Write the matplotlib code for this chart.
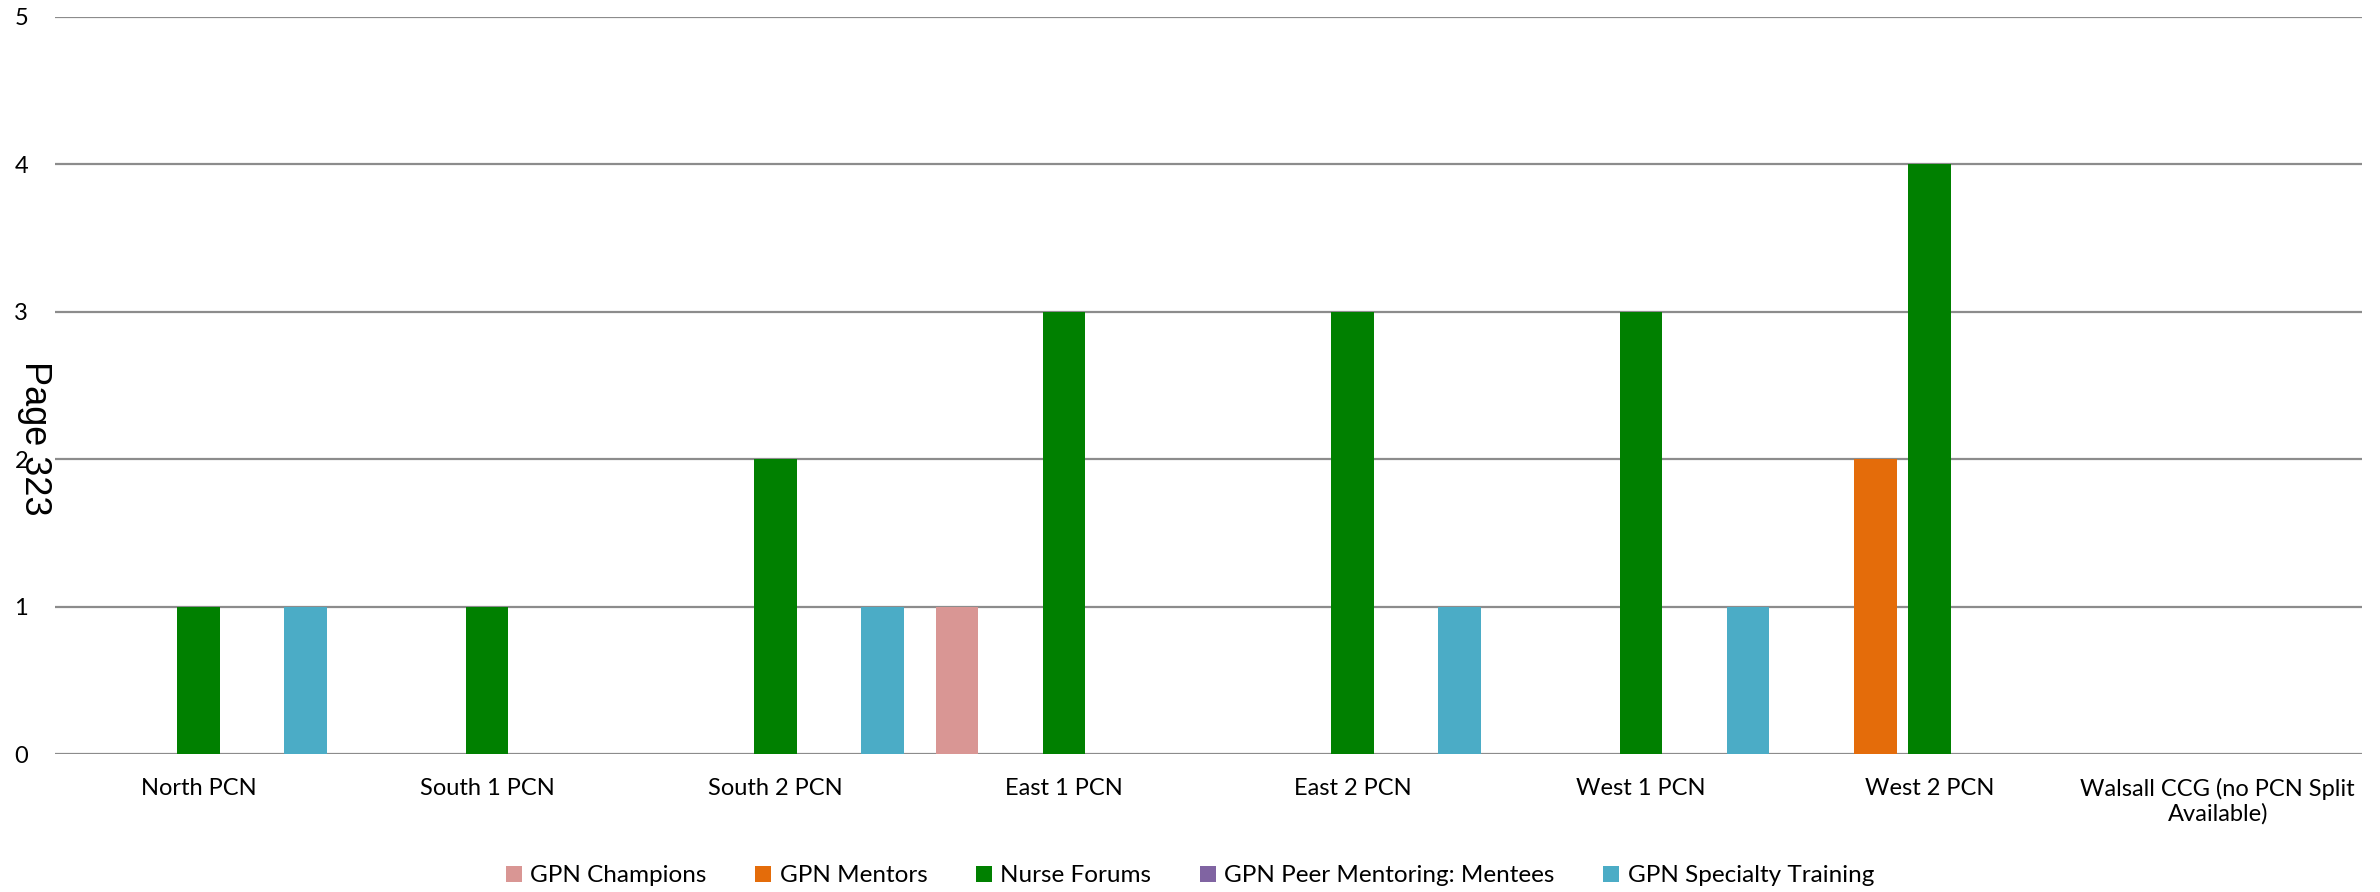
import numpy as np
import matplotlib
matplotlib.use("Agg")
import matplotlib.pyplot as plt

# Chart data
categories = ["North PCN", "South 1 PCN", "South 2 PCN", "East 1 PCN", "East 2 PCN",
              "West 1 PCN", "West 2 PCN", "Walsall CCG (no PCN Split\nAvailable)"]
series_names = ["GPN Champions", "GPN Mentors", "Nurse Forums",
                "GPN Peer Mentoring: Mentees", "GPN Specialty Training"]
gpn_champions = [0, 0, 0, 1, 0, 0, 0, 0]
gpn_mentors = [0, 0, 0, 0, 0, 0, 2, 0]
nurse_forums = [1, 1, 2, 3, 3, 3, 4, 0]
gpn_peer_mentees = [0, 0, 0, 0, 0, 0, 0, 0]
gpn_specialty = [1, 0, 1, 0, 1, 1, 0, 0]
y_ticks = [0, 1, 2, 3, 4, 5]

colors = ["#D99694", "#E46C0A", "#008000", "#8064A2", "#4BACC6"]
series = [gpn_champions, gpn_mentors, nurse_forums, gpn_peer_mentees, gpn_specialty]

plt.rcParams["font.family"] = ["Lato", "DejaVu Sans"]

fig = plt.figure(figsize=(23.8, 8.92), dpi=100)
ax = fig.add_axes([0.0229, 0.1547, 0.9695, 0.8266])

x = np.arange(len(categories))
step = 0.1855
width = 0.148
for k, (name, vals, c) in enumerate(zip(series_names, series, colors)):
    ax.bar(x + (k - 2) * step, vals, width=width, color=c, label=name, zorder=3)

ax.set_xlim(-0.5, len(categories) - 0.5)
ax.set_ylim(0, 5)
ax.set_yticks(y_ticks)
ax.set_xticks(x)
ax.set_xticklabels(categories, fontsize=17)
ax.tick_params(axis="y", labelsize=17, length=0, pad=19)
ax.tick_params(axis="x", length=0, pad=17)
ax.grid(axis="y", color="#8c8c8c", linewidth=1.6, zorder=0)
for s in ax.spines.values():
    s.set_visible(False)

fig.legend(loc="center", bbox_to_anchor=(0.5, 0.018), ncol=5, frameon=False,
           fontsize=17.5, handlelength=0.65, handleheight=0.65, handletextpad=0.35,
           columnspacing=2.0)

fig.text(0.0143, 0.509, "Page 323", rotation=-90, fontsize=26,
         family="Liberation Sans", ha="center", va="center")

fig.savefig("out.png", dpi=100)
